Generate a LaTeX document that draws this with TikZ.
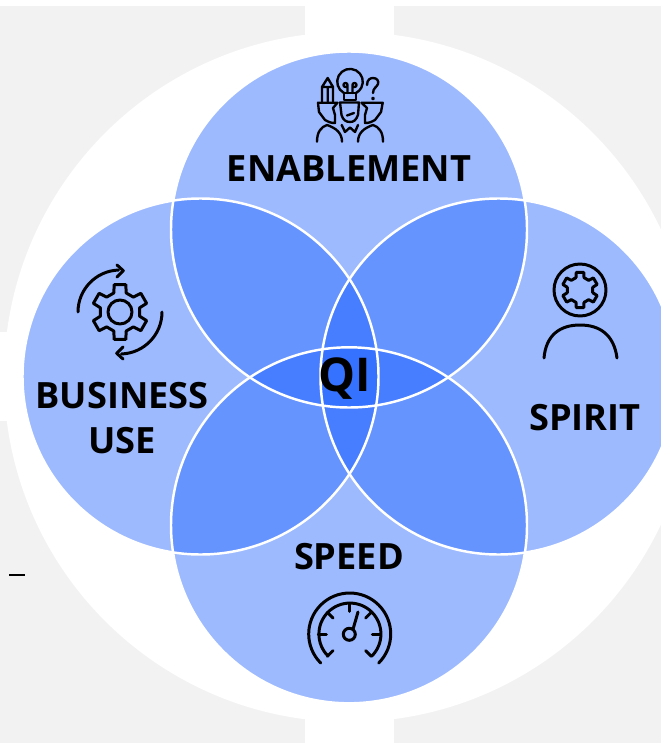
\documentclass[tikz,border=0pt]{standalone}
\usepackage{fontspec}
\setmainfont{Open Sans}
\usetikzlibrary{calc}
\definecolor{panelgray}{RGB}{242,242,242}
\definecolor{petalblue}{RGB}{32,100,255}
\tikzset{
  petal/.style={fill=petalblue,fill opacity=0.44,draw=none},
  petalline/.style={draw=white,line width=1.4pt},
  icon/.style={draw=black,line width=1.7pt,line cap=round,line join=round},
  thinicon/.style={icon,line width=1.35pt},
  caption/.style={font=\bfseries\fontsize{20.6}{24}\selectfont,text=black,inner sep=0pt,align=center}
}
\newcommand{\gearicon}[4]{
  \foreach \a in {30,90,...,330} {
    \draw[icon,shift={(#1,#2)}] (\a-18:#3)--(\a-12:#4)--(\a+12:#4)--(\a+18:#3)--(\a+42:#3);
  }
}
\begin{document}
\begin{tikzpicture}[x=0.02cm,y=-0.02cm]
  \clip (0,0) rectangle (661,743);
  \fill[white] (0,0) rectangle (661,743);
  \fill[panelgray] (0,6) rectangle (661,743);
  \fill[white] (305,0) rectangle (394,743);
  \fill[white] (0,332) rectangle (40,421);
  \fill[white] (349,377) circle (345);
  \draw[line width=0.6pt] (9,575)--(25,575);
  % petals
  \foreach \x/\y in {349/229.5,349/525.3,200.5/376.5,498.5/376.5} {
    \fill[petal] (\x,\y) circle (178);
  }
  \foreach \x/\y in {349/229.5,349/525.3,200.5/376.5,498.5/376.5} {
    \draw[petalline] (\x,\y) circle (178);
  }
  % labels
  \node[caption] (enablement) at (349,169) {ENABLEMENT};
  \node[caption] (business) at (122,418) {BUSINESS\\[1.5pt]USE};
  \node[caption] (spirit) at (585,418) {SPIRIT};
  \node[caption] (speed) at (349,557) {SPEED};
  \node[caption,font=\bfseries\fontsize{26.5}{30}\selectfont] (qi) at (345,379) {QI};
  % business use icon
  \gearicon{120}{312}{20}{28}
  \draw[icon] (120,312) circle (12);
  \foreach \r in {0,180} {
    \begin{scope}[rotate around={\r:(120,312)}]
      \draw[icon] (78,312) arc (180:268:42);
      \draw[icon] (117,265)--(123.3,270.7)--(117,277);
    \end{scope}
  }
  % spirit icon
  \draw[icon] (580,290) circle (26);
  \gearicon{580}{290}{13}{18}
  \draw[icon] (544,358) .. controls (546,335) and (560,325) .. (580,325) .. controls (600,325) and (614,335) .. (617,358);
  % speed icon
  \draw[icon] (320.7,663) arc (135:405:41);
  \draw[icon] (328,656) arc (135:405:31);
  \draw[icon] (349.3,634.3) circle (6);
  \foreach \a in {135,180,225,270,315,360,405} {
    \draw[icon,shift={(349.3,634.3)}] (\a:31)--(\a:23);
  }
  \draw[icon] (353.3,628.3)--(358,612);
  % enablement icon
  \draw[thinicon] (344,93) arc (118:422:12.8);
  \draw[thinicon] (344,93)--(344,100)--(356,100)--(356,93) (344,93)--(356,93);
  \draw[thinicon] (347.5,93)--(347.5,85) arc (0:-300:2) (352.5,93)--(352.5,85) arc (180:480:2);
  \draw[thinicon] (340,102.5)--(359,102.5)--(358,115) .. controls (356,120) and (354,122) .. (350,122) .. controls (346,122) and (343,120) .. (341.5,115)--cycle;
  \draw[thinicon] (347,115.5)--(354,113);
  \draw[thinicon] (322,101.5)--(322,87)--(327.7,78)--(333,87)--(333,101.5) (322,87)--(333,87) (327.7,87)--(327.7,101.5);
  \draw[thinicon] (318,102.7)--(337.5,102.7)--(333,108)--(335,115)--(335,123) .. controls (331,123) and (328,122) .. (325,120)--(319,112)--cycle;
  \draw[thinicon] (361.5,102.7)--(382.7,102.7)--(381,112)--(375,120) .. controls (372,122) and (369,123) .. (365,123)--(365,115)--(367,108)--cycle;
  \draw[thinicon] (317,141.7) .. controls (317,132) and (321,127) .. (327,125) .. controls (336,128) and (342,133) .. (342,141.7);
  \draw[thinicon] (358,141.7) .. controls (358,133) and (364,128) .. (373,125) .. controls (379,127) and (383,132) .. (383,141.7);
  \draw[thinicon] (341.7,125)--(345,132)--(350,127.5)--(355,132)--(358,125);
  \draw[thinicon] (367,85) .. controls (367,79) and (371,78) .. (373,78) .. controls (377,78) and (379,81) .. (378,84) .. controls (377,87) and (373,88) .. (373,93);
  \draw[thinicon] (373,98.5) circle (0.8);
\end{tikzpicture}
\end{document}
